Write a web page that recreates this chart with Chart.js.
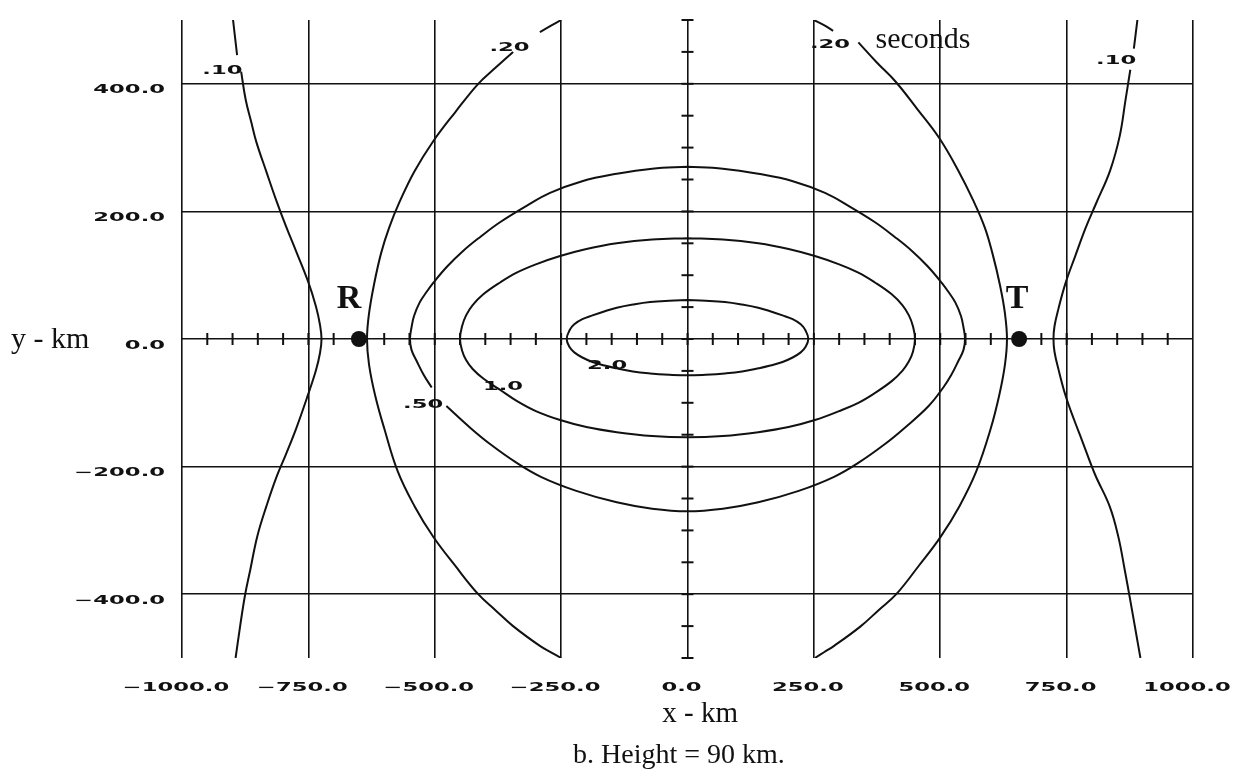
<!DOCTYPE html>
<html>
<head>
<meta charset="utf-8">
<title>Contours, height 90 km</title>
<script src="https://cdn.jsdelivr.net/npm/chart.js@4.4.0/dist/chart.umd.min.js"></script>
<style>
  html, body { margin: 0; padding: 0; background: #ffffff; }
  #wrap { width: 1236px; height: 770px; }
</style>
</head>
<body>
<div id="wrap"><canvas id="chart" width="1236" height="770"></canvas></div>
<script>
// ---- axes (km) ----
const xTicks = [-1000, -750, -500, -250, 0, 250, 500, 750, 1000];
const xTickLabels = ['\u22121000.0', '\u2212750.0', '\u2212500.0', '\u2212250.0', '0.0', '250.0', '500.0', '750.0', '1000.0'];
const yTicks = [-400, -200, 0, 200, 400];
const yTickLabels = ['\u2212400.0', '\u2212200.0', '0.0', '200.0', '400.0'];

// small tick marks on the axes through the origin, every 50 km
const xAxisMarks = [-950, -900, -850, -800, -750, -700, -650, -600, -550, -500, -450, -400, -350, -300, -250, -200, -150, -100, -50, 0,
                    50, 100, 150, 200, 250, 300, 350, 400, 450, 500, 550, 600, 650, 700, 750, 800, 850, 900, 950];
const yAxisMarks = [-500, -450, -400, -350, -300, -250, -200, -150, -100, -50, 0, 50, 100, 150, 200, 250, 300, 350, 400, 450, 500];

// receiver and transmitter positions (km)
const stationNames = ['R', 'T'];
const stationX = [-650, 656];
const stationY = [0, 0];

// ---- contours, [x km, y km]; null breaks the line where a label sits ----
const contour200 = [
  [0, 61], [36, 60], [74, 58], [108, 54], [140, 49], [162, 44], [188, 37], [208, 31], [224, 23], [233, 14], [239, 0],
  [233, -13], [224, -21], [208, -29], [188, -36], [162, -42], [140, -46], [108, -51], [74, -54], [36, -56], [0, -57],
  [-36, -56], [-74, -54], [-108, -51], [-140, -46], [-162, -42], [-188, -36], [-208, -29], [-224, -21], [-233, -13], [-239, 0],
  [-233, 14], [-224, 23], [-208, 31], [-188, 37], [-162, 44], [-140, 49], [-108, 54], [-74, 58], [-36, 60], [0, 61]
];
const contour100 = [
  [0, 158], [70, 156], [140, 150], [200, 141], [252, 130], [300, 117], [338, 104], [370, 89], [404, 70], [425, 53], [438, 37], [446, 20], [450, 0],
  [446, -20], [438, -35], [425, -50], [404, -66], [370, -85], [338, -100], [300, -113], [252, -127], [200, -138], [140, -146], [70, -152], [0, -154],
  [-70, -152], [-140, -146], [-200, -138], [-252, -127], [-300, -113], [-338, -97], [-372, -79], [-404, -62], [-425, -47], [-438, -33], [-446, -18], [-450, 0],
  [-446, 20], [-438, 37], [-425, 53], [-404, 70], [-370, 89], [-338, 104], [-300, 117], [-252, 130], [-200, 141], [-140, 150], [-70, 156], [0, 158]
];
const contour050 = [
  [0, 270], [70, 267], [140, 259], [210, 247], [272, 229], [320, 208], [371, 183], [410, 160], [444, 138], [475, 114], [503, 88], [516, 74], [530, 57], [541, 36], [546, 18], [549, 0],
  [546, -17], [536, -34], [522, -56], [506, -76], [477, -105], [430, -139], [390, -165], [340, -193], [290, -216], [220, -238], [140, -256], [70, -266], [0, -270],
  [-70, -266], [-140, -256], [-220, -238], [-290, -216], [-340, -193], [-390, -165], [-430, -139], [-477, -105], null, [-506, -76], [-522, -56], [-536, -34], [-546, -17], [-549, 0],
  [-546, 18], [-541, 36], [-530, 57], [-516, 74], [-503, 88], [-475, 114], [-444, 138], [-410, 160], [-371, 183], [-320, 208], [-272, 229], [-210, 247], [-140, 259], [-70, 267], [0, 270]
];
const contour020West = [
  [-250, 500], [-270, 491], [-292, 481], null, [-345, 450], [-380, 425], [-414, 400], [-460, 355], [-503, 310], [-540, 263], [-569, 216], [-590, 175],
  [-606, 135], [-620, 86], [-630, 40], [-634, 0], [-630, -40], [-618, -88], [-600, -140], [-573, -208], [-540, -262], [-503, -310], [-460, -355],
  [-414, -400], [-380, -425], [-345, -450], [-292, -481], [-270, -491], [-250, -500]
];
const contour020East = [
  [250, 500], [270, 492], [288, 483], null, [338, 465], [375, 433], [411, 404], [455, 360], [498, 315], [535, 265], [566, 216], [588, 175],
  [603, 135], [618, 85], [628, 40], [632, 0], [628, -40], [617, -87], [600, -140], [571, -208], [538, -262], [500, -311], [458, -355],
  [413, -400], [378, -425], [343, -450], [290, -481], [270, -491], [252, -500]
];
const contour010West = [
  [-899, 500], [-891, 445], null, [-883, 419], [-874, 375], [-863, 340], [-853, 309], [-833, 262], [-813, 216], [-794, 176], [-774, 137], [-751, 91], [-735, 51],
  [-727, 22], [-724, 0], [-727, -22], [-735, -49], [-751, -88], [-774, -140], [-794, -180], [-813, -216], [-833, -262], [-851, -309], [-865, -362],
  [-875, -400], [-885, -450], [-894, -500]
];
const contour010East = [
  [890, 500], [883, 455], null, [876, 422], [866, 372], [855, 318], [836, 264], [808, 212], [788, 175], [767, 130], [748, 88], [734, 48],
  [726, 20], [724, 0], [726, -20], [734, -48], [748, -89], [765, -127], [780, -158], [806, -212], [835, -262], [852, -309], [865, -362],
  [876, -410], [886, -455], [896, -500]
];

// contour level labels: text and centre position (km)
const levelText = ['.10', '.20', '.20', '.10', '.50', '1.0', '2.0'];
const levelX = [-920, -352, 282, 848, -523, -365, -159];
const levelY = [422, 458, 462, 437, -101, -73, -41];

const INK = '#111111';
const WIDE_FONT = 'bold 11.5px "DejaVu Sans"';
const WIDE_SX = 1.97;
const SERIF = '"Liberation Serif", "Times New Roman", serif';

function toPoints(list) {
  return list.map(p => (p ? { x: p[0], y: p[1] } : { x: null, y: null }));
}

function contourSet(list) {
  return {
    data: toPoints(list),
    showLine: true,
    borderColor: INK,
    borderWidth: 2,
    pointRadius: 0,
    pointHoverRadius: 0,
    tension: 0.4,
    spanGaps: false,
    fill: false
  };
}

// plotter-style lettering: horizontally stretched glyphs
function wideText(ctx, str, x, y, align) {
  ctx.save();
  ctx.font = WIDE_FONT;
  const w = ctx.measureText(str).width * WIDE_SX;
  const left = align === 'right' ? x - w : (align === 'center' ? x - w / 2 : x);
  ctx.translate(left, y);
  ctx.scale(WIDE_SX, 1);
  ctx.textAlign = 'left';
  ctx.textBaseline = 'alphabetic';
  ctx.fillStyle = INK;
  ctx.fillText(str, 0, 0);
  ctx.restore();
}

function serifText(ctx, str, x, y, size, align, weight) {
  ctx.save();
  ctx.font = (weight || 'normal') + ' ' + size + 'px ' + SERIF;
  ctx.textAlign = align;
  ctx.textBaseline = 'alphabetic';
  ctx.fillStyle = INK;
  ctx.fillText(str, x, y);
  ctx.restore();
}

const lettering = {
  id: 'lettering',
  afterDraw(chart) {
    const { ctx, chartArea } = chart;
    const xs = chart.scales.x;
    const ys = chart.scales.y;

    // tick labels
    xTicks.forEach((v, i) => wideText(ctx, xTickLabels[i], xs.getPixelForValue(v) - 6, chartArea.bottom + 32.5, 'center'));
    yTicks.forEach((v, i) => wideText(ctx, yTickLabels[i], chartArea.left - 17, ys.getPixelForValue(v) + 9.5, 'right'));

    // contour level labels
    levelText.forEach((t, i) => wideText(ctx, t, xs.getPixelForValue(levelX[i]), ys.getPixelForValue(levelY[i]) + 4.2, 'center'));
    serifText(ctx, 'seconds', xs.getPixelForValue(372), ys.getPixelForValue(456), 30, 'left');

    // station letters
    stationNames.forEach((n, i) => {
      const px = xs.getPixelForValue(stationX[i]) + (n === 'R' ? -10 : -2);
      const py = ys.getPixelForValue(stationY[i]) - 31;
      serifText(ctx, n, px, py, 34, 'center', 'bold');
    });

    // axis titles and caption
    serifText(ctx, 'y - km', 11, ys.getPixelForValue(0) + 9, 30, 'left');
    serifText(ctx, 'x - km', xs.getPixelForValue(25), chartArea.bottom + 64, 29, 'center');
    serifText(ctx, 'b. Height = 90 km.', xs.getPixelForValue(-17), chartArea.bottom + 105, 28, 'center');
  }
};

new Chart(document.getElementById('chart'), {
  type: 'scatter',
  data: {
    datasets: [
      {
        data: stationX.map((x, i) => ({ x: x, y: stationY[i] })),
        pointRadius: 8,
        pointHoverRadius: 8,
        pointStyle: 'circle',
        pointBackgroundColor: INK,
        pointBorderWidth: 0,
        showLine: false
      },
      {
        data: xAxisMarks.map(x => ({ x: x, y: 0 })),
        pointStyle: 'line',
        pointRadius: 6,
        pointHoverRadius: 6,
        pointRotation: 90,
        pointBorderColor: INK,
        pointBorderWidth: 2,
        showLine: false,
        clip: false
      },
      {
        data: yAxisMarks.map(y => ({ x: 0, y: y })),
        pointStyle: 'line',
        pointRadius: 6,
        pointHoverRadius: 6,
        pointRotation: 0,
        pointBorderColor: INK,
        pointBorderWidth: 2,
        showLine: false,
        clip: false
      },
      contourSet(contour200),
      contourSet(contour100),
      contourSet(contour050),
      contourSet(contour020West),
      contourSet(contour020East),
      contourSet(contour010West),
      contourSet(contour010East)
    ]
  },
  options: {
    responsive: false,
    animation: false,
    devicePixelRatio: 1,
    events: [],
    layout: { padding: { left: 182, right: 43, top: 20, bottom: 112 } },
    plugins: {
      legend: { display: false },
      tooltip: { enabled: false },
      title: { display: false }
    },
    scales: {
      x: {
        type: 'linear',
        min: -1000,
        max: 1000,
        afterBuildTicks: s => { s.ticks = xTicks.map(v => ({ value: v })); },
        ticks: { display: false },
        grid: { color: INK, lineWidth: 1.6, drawTicks: false },
        border: { display: false }
      },
      y: {
        type: 'linear',
        min: -500,
        max: 500,
        afterBuildTicks: s => { s.ticks = yTicks.map(v => ({ value: v })); },
        ticks: { display: false },
        grid: { color: INK, lineWidth: 1.6, drawTicks: false },
        border: { display: false }
      }
    }
  },
  plugins: [lettering]
});
</script>
</body>
</html>
